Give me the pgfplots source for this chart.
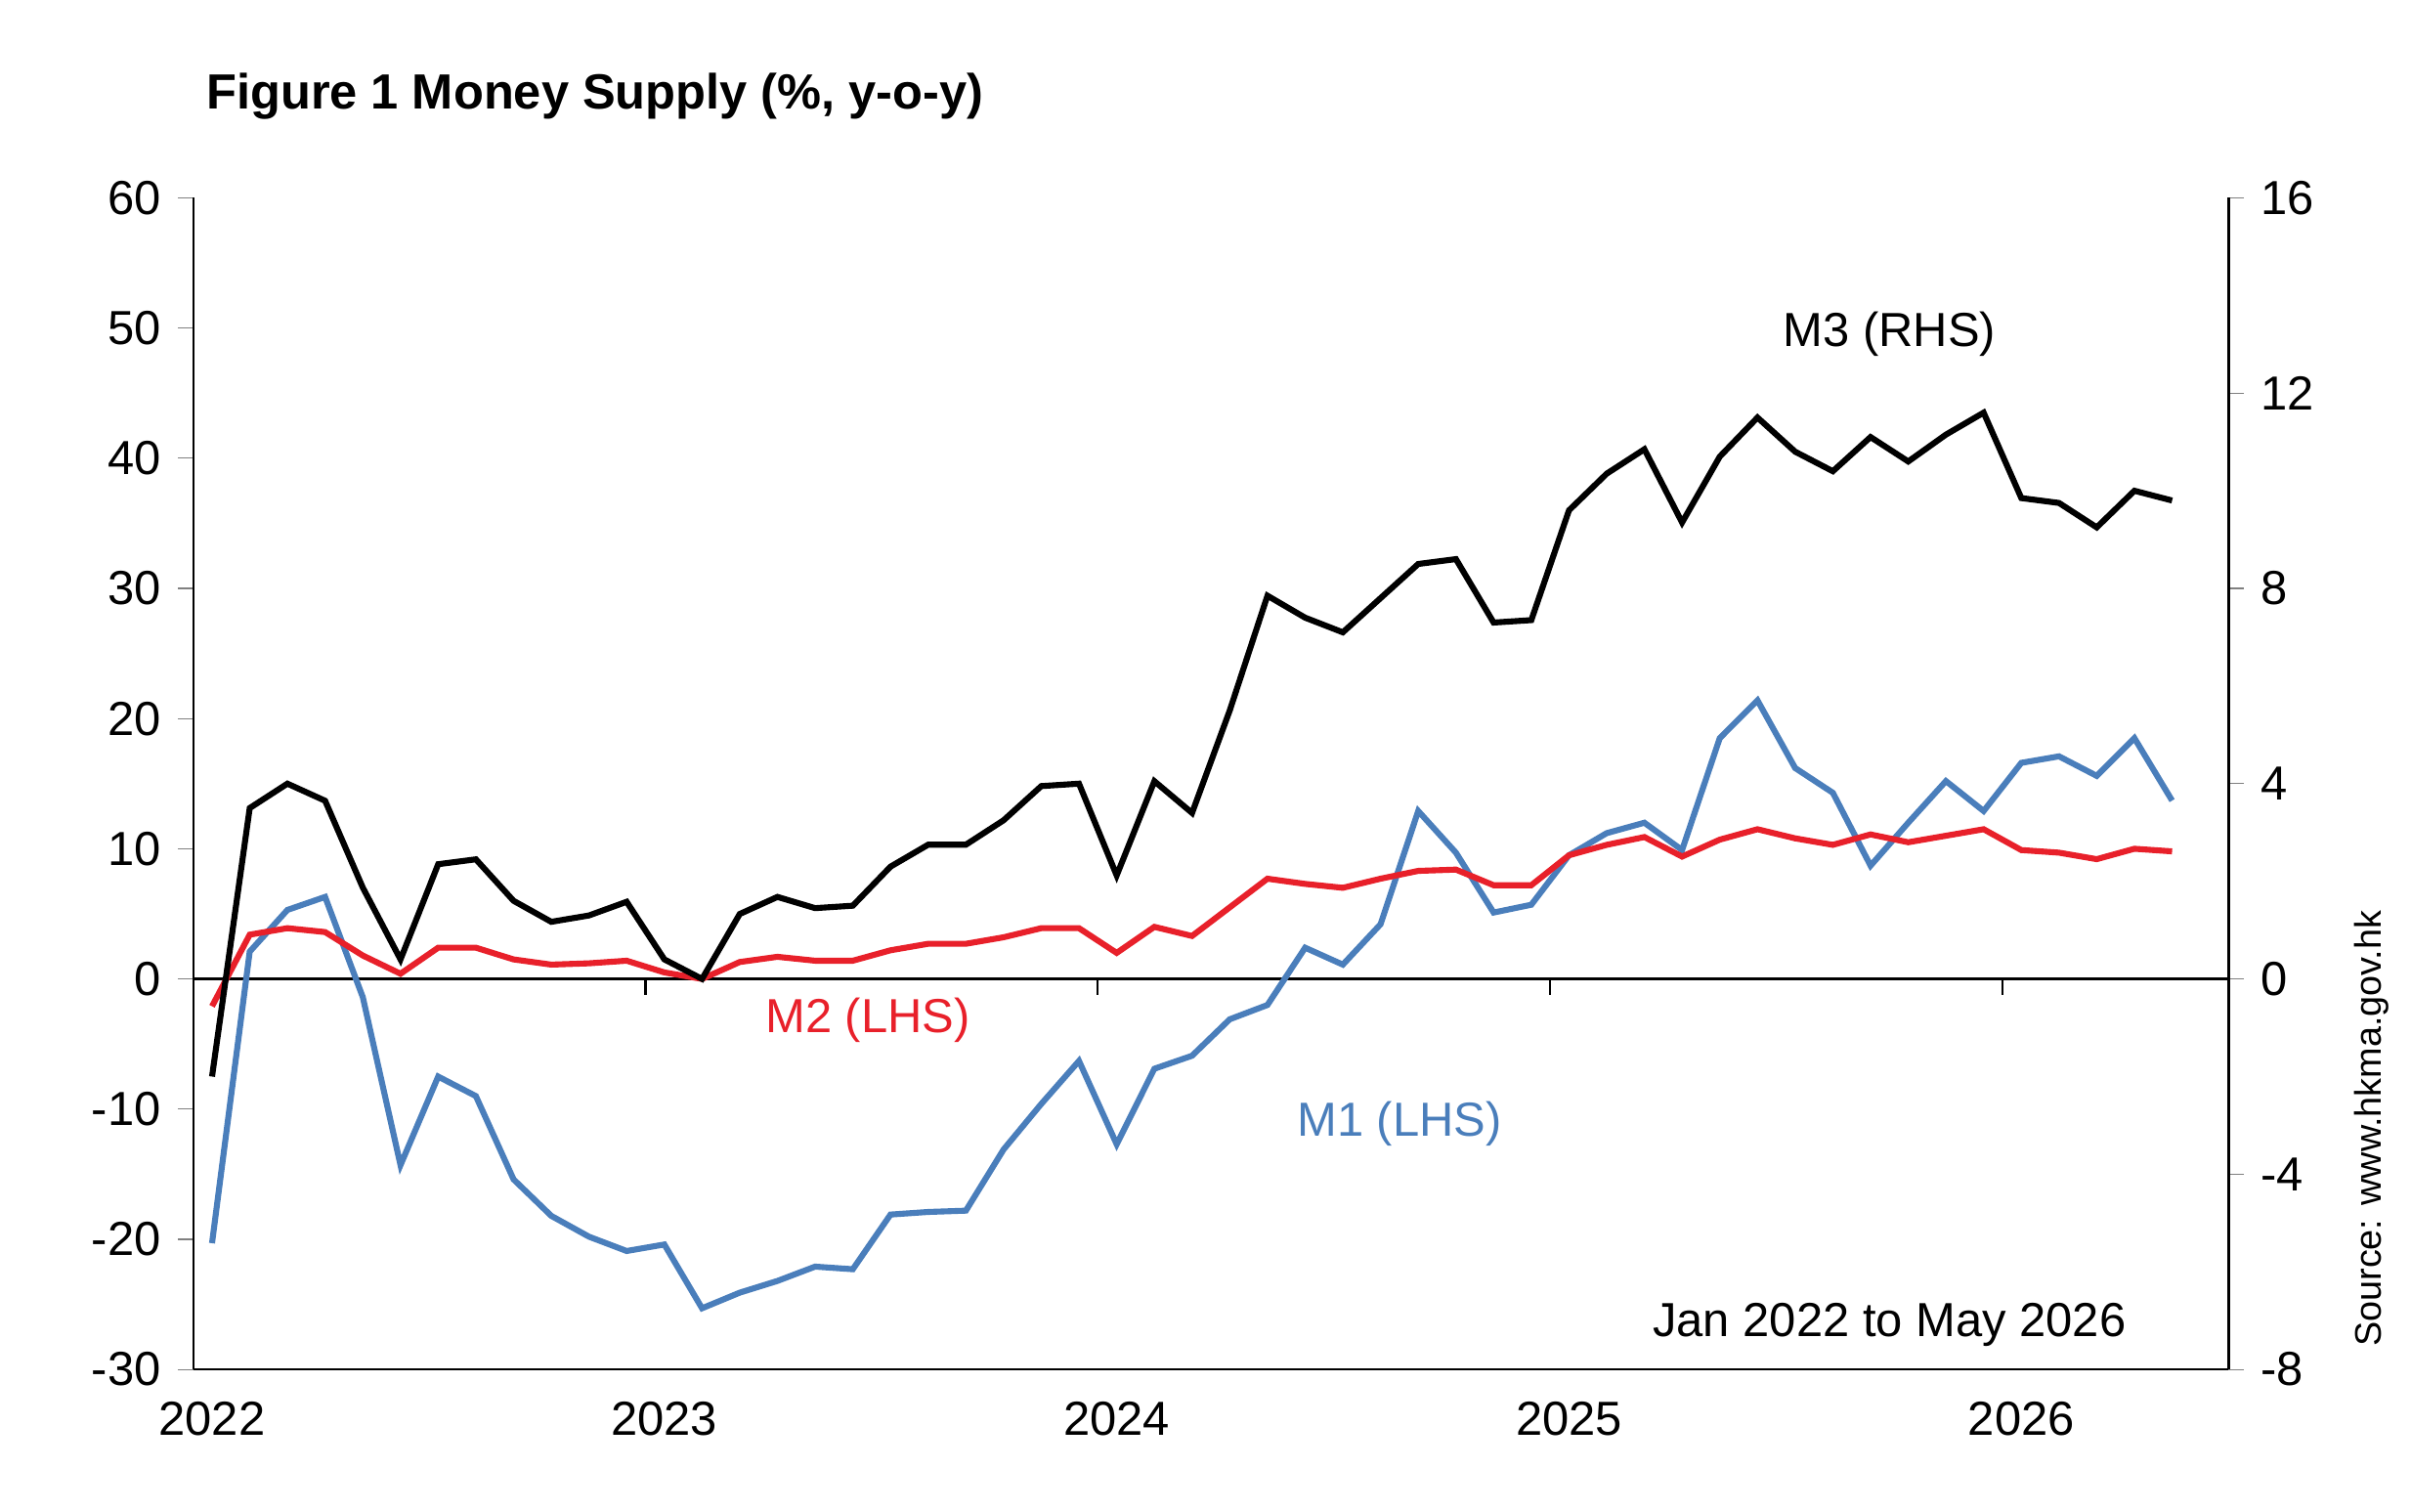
\documentclass[border=0pt]{standalone}
\usepackage{pgfplots}
\pgfplotsset{compat=1.18}
\usepackage{fontspec}
\setmainfont{Liberation Sans}
\definecolor{mblue}{HTML}{4A7EBB}
\definecolor{mred}{HTML}{E8202A}
\begin{document}
\fontsize{8.8}{10}\selectfont
\begin{tikzpicture}
\path[use as bounding box] (-1.25,-0.92) rectangle (14.35,8.86);
\begin{axis}[at={(0,0)},anchor=south west,scale only axis,width=13.17cm,height=7.58cm,
 xmin=-0.5,xmax=53.5,ymin=-30,ymax=60,ytick={-30,-20,...,60},
 axis y line*=left, axis x line*=bottom, xtick={0,12,24,36,48},xticklabels={2022,2023,2024,2025,2026},
 x tick style={draw=none}, tick align=outside, major tick length=0.1cm,
 ticklabel style={font=\fontsize{8.8}{10}\selectfont}, /pgf/number format/assume math mode=true,
 clip=false]
\draw (axis cs:-0.5,0) -- (axis cs:53.5,0);
\pgfplotsinvokeforeach{11.5,23.5,35.5,47.5}{\draw (axis cs:#1,0) -- (axis cs:#1,-1.2);}
\addplot[mblue,line width=1.1pt] coordinates {(0,-20.3)(1,2.1)(2,5.3)(3,6.3)(4,-1.4)(5,-14.3)(6,-7.5)(7,-9.0)(8,-15.4)(9,-18.2)(10,-19.8)(11,-20.9)(12,-20.4)(13,-25.3)(14,-24.1)(15,-23.2)(16,-22.1)(17,-22.3)(18,-18.1)(19,-17.9)(20,-17.8)(21,-13.1)(22,-9.6)(23,-6.3)(24,-12.7)(25,-6.9)(26,-5.9)(27,-3.1)(28,-2.0)(29,2.4)(30,1.1)(31,4.2)(32,12.9)(33,9.7)(34,5.1)(35,5.7)(36,9.5)(37,11.2)(38,12.0)(39,9.9)(40,18.5)(41,21.4)(42,16.2)(43,14.3)(44,8.7)(45,12.0)(46,15.2)(47,12.9)(48,16.6)(49,17.1)(50,15.6)(51,18.5)(52,13.7)};
\addplot[mred,line width=1.1pt] coordinates {(0,-2.1)(1,3.4)(2,3.9)(3,3.6)(4,1.8)(5,0.4)(6,2.4)(7,2.4)(8,1.5)(9,1.1)(10,1.2)(11,1.4)(12,0.5)(13,0)(14,1.3)(15,1.7)(16,1.4)(17,1.4)(18,2.2)(19,2.7)(20,2.7)(21,3.2)(22,3.9)(23,3.9)(24,2.0)(25,4.0)(26,3.3)(27,5.5)(28,7.7)(29,7.3)(30,7.0)(31,7.7)(32,8.3)(33,8.4)(34,7.2)(35,7.2)(36,9.5)(37,10.3)(38,10.9)(39,9.4)(40,10.7)(41,11.5)(42,10.8)(43,10.3)(44,11.1)(45,10.5)(46,11.0)(47,11.5)(48,9.9)(49,9.7)(50,9.2)(51,10.0)(52,9.8)};
\node[mred] at (axis cs:17.4,-3.2) {M2 (LHS)};
\node[mblue] at (axis cs:31.5,-11.1) {M1 (LHS)};
\node at (axis cs:44.5,-26.6) {Jan 2022 to May 2026};
\node[anchor=west,font=\fontsize{9.1}{10}\selectfont\bfseries] at (axis cs:-0.6,67.8) {Figure 1 Money Supply (\%, y-o-y)};
\node[rotate=90,font=\fontsize{6.8}{8}\selectfont] at (axis cs:57.3,-11.5) {Source: www.hkma.gov.hk};
\end{axis}
\begin{axis}[at={(0,0)},anchor=south west,scale only axis,width=13.17cm,height=7.58cm,
 xmin=-0.5,xmax=53.5,ymin=-8,ymax=16,ytick={-8,-4,...,16},
 axis y line*=right, axis x line=none, tick align=outside, major tick length=0.1cm,
 ticklabel style={font=\fontsize{8.8}{10}\selectfont}, /pgf/number format/assume math mode=true, clip=false]
\addplot[black,line width=1.1pt] coordinates {(0,-2.0)(1,3.5)(2,4.0)(3,3.65)(4,1.87)(5,0.4)(6,2.35)(7,2.45)(8,1.6)(9,1.17)(10,1.3)(11,1.58)(12,0.4)(13,0)(14,1.33)(15,1.68)(16,1.45)(17,1.5)(18,2.3)(19,2.75)(20,2.75)(21,3.25)(22,3.95)(23,4.0)(24,2.12)(25,4.05)(26,3.4)(27,5.5)(28,7.85)(29,7.4)(30,7.1)(31,7.8)(32,8.5)(33,8.6)(34,7.3)(35,7.35)(36,9.6)(37,10.35)(38,10.85)(39,9.35)(40,10.7)(41,11.5)(42,10.8)(43,10.4)(44,11.1)(45,10.6)(46,11.15)(47,11.6)(48,9.85)(49,9.75)(50,9.25)(51,10.0)(52,9.8)};
\node at (axis cs:44.5,13.2) {M3 (RHS)};
\end{axis}
\end{tikzpicture}
\end{document}
